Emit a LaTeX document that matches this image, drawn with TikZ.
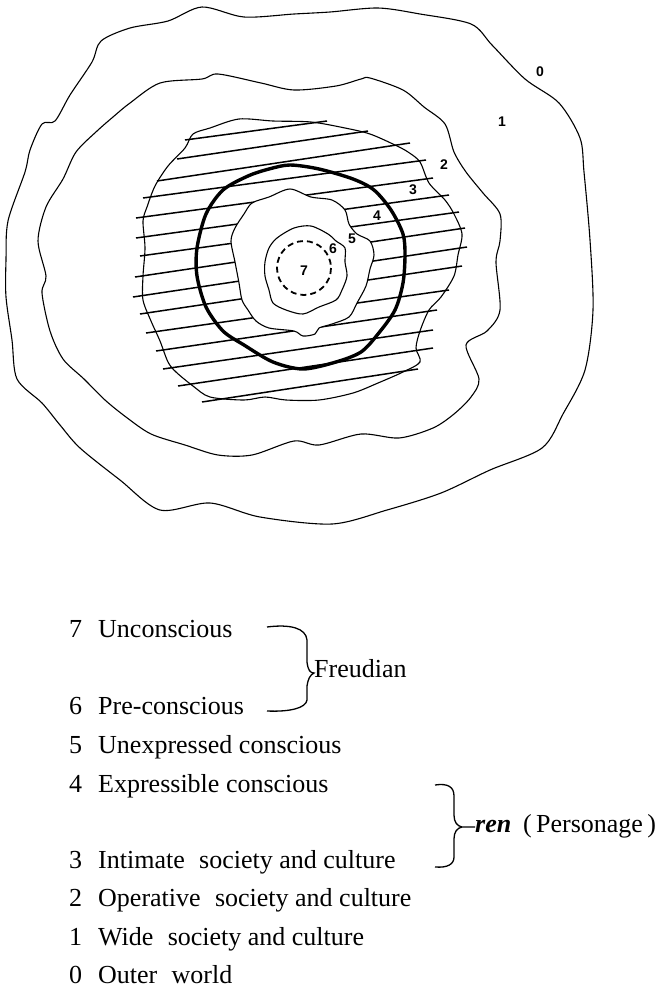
\documentclass[tikz,border=0pt]{standalone}
\usepackage{fontspec}
\setmainfont{Liberation Serif}
\newfontfamily\zonefont{Liberation Sans}
\newcommand{\legendsize}{\fontsize{26}{30}\selectfont}
\newcommand{\widegap}{\hspace{0.3em}}

\begin{document}
\begin{tikzpicture}[x=1pt, y=-1pt,
  ring/.style={line width=1.1pt, line join=round},
  thickring/.style={line width=3.4pt, line join=round},
  hatch/.style={line width=1.5pt},
  bracepath/.style={line width=1.3pt},
  zonelabel/.style={font=\zonefont\bfseries\fontsize{14}{14}\selectfont, inner sep=0pt},
  legend/.style={anchor=base west, inner sep=0pt, font=\legendsize}]
  \useasboundingbox (0,0) rectangle (658,989);

  % Hatching of zones 3 and 4
  \foreach \xa/\ya/\xb/\yb in {185/140/327/121, 177/159/368/131, 157/181/410/143,
      143/198/426/160, 136/218/433/178, 136/238/449/195, 140/256/459/212,
      135/277/465/228, 133/297/467/247, 140/314/462/266, 146/333/449/290,
      156/351/437/310, 163/369/433/330, 178/386/433/348, 202/402/418/369}
    \draw[hatch] (\xa,\ya) -- (\xb,\yb);
  % Zone 5 is left blank
  \fill[white] plot[smooth cycle, tension=0.5] coordinates {(290,189) (311,197) (332,200) (345,210)
    (349,224) (357,234) (370,241) (374,255) (370,269) (366,286) (357,303) (349,317)
    (332,324) (319,328) (315,334) (303,336) (294,331) (269,328) (256,321) (248,310)
    (242,300) (239,283) (235,262) (231,241) (235,228) (244,214) (252,203) (269,197)};

  % Outer world / wide society
  \draw[ring] plot[smooth cycle, tension=0.5] coordinates {(101,41) (92,62) (70,95) (55,121)
    (42,124) (30,150) (25,172) (8,221) (6,260) (6,297) (12,340) (17,379) (42,403)
    (60,425) (80,448) (120,480) (160,510) (210,503) (260,517) (332,524) (387,510)
    (441,493) (490,470) (542,448) (563,414) (585,370) (593,310) (590,240) (584,172)
    (580,138) (559,103) (525,79) (492,45) (471,24) (420,14) (378,8) (330,12)
    (294,14) (244,17) (202,7) (168,21) (130,28)};
  % Wide / operative society
  \draw[ring] plot[smooth cycle, tension=0.5] coordinates {(130,103) (160,83) (202,79) (218,74)
    (261,83) (294,90) (336,86) (361,79) (370,78) (403,90) (424,107) (445,124)
    (454,152) (466,172) (483,193) (500,214) (500,241) (496,262) (500,310) (487,331)
    (466,345) (479,379) (471,397) (454,414) (433,428) (399,438) (361,434) (319,445)
    (294,441) (252,455) (218,455) (185,445) (151,434) (126,417) (105,400) (84,379)
    (63,359) (50,331) (42,293) (46,276) (38,241) (46,207) (63,179) (76,152)
    (97,131) (113,117)};
  % Operative / intimate society
  \draw[ring] plot[smooth cycle, tension=0.5] coordinates {(193,134) (210,128) (239,119)
    (273,121) (311,122) (345,128) (370,134) (395,145) (408,152) (420,162) (429,183)
    (445,200) (454,214) (462,234) (458,255) (454,276) (441,297) (429,310) (420,331)
    (416,348) (420,362) (403,372) (378,383) (353,393) (319,400) (286,400) (265,397)
    (244,400) (210,397) (193,386) (176,372) (168,362) (160,341) (151,321) (143,300)
    (143,276) (145,248) (143,221) (147,207) (155,186) (168,166) (185,148)};
  % Boundary of ren
  \draw[thickring] plot[smooth cycle, tension=0.5] coordinates {(290,165) (319,169) (353,179)
    (374,190) (391,210) (403,234) (405,255) (403,283) (395,310) (378,334) (361,352)
    (336,362) (303,369) (273,362) (244,345) (223,331) (206,307) (197,276) (197,248)
    (206,214) (223,190) (248,176) (269,169)};
  % Expressible / unexpressed conscious
  \draw[ring] plot[smooth cycle, tension=0.5] coordinates {(290,189) (311,197) (332,200) (345,210)
    (349,224) (357,234) (370,241) (374,255) (370,269) (366,286) (357,303) (349,317)
    (332,324) (319,328) (315,334) (303,336) (294,331) (269,328) (256,321) (248,310)
    (242,300) (239,283) (235,262) (231,241) (235,228) (244,214) (252,203) (269,197)};
  % Unexpressed / pre-conscious
  \draw[ring] plot[smooth cycle, tension=0.5] coordinates {(294,228) (311,226) (328,234)
    (336,241) (345,248) (345,262) (347,276) (342,290) (336,300) (319,307) (303,314)
    (286,310) (273,303) (269,290) (265,276) (265,262) (269,248) (277,238)};
  % Unconscious
  \draw[line width=1.8pt, dash pattern=on 6pt off 4pt] (304,268) circle[radius=27];

  % Zone numbers
  \node[zonelabel] (z0) at (540,72) {0};
  \node[zonelabel] (z1) at (502,122) {1};
  \node[zonelabel] (z2) at (444,165) {2};
  \node[zonelabel] (z3) at (413,190) {3};
  \node[zonelabel] (z4) at (377,216) {4};
  \node[zonelabel] (z5) at (352,239) {5};
  \node[zonelabel] (z6) at (333,249) {6};
  \node[zonelabel] (z7) at (304,271) {7};

  % Legend
  \foreach \num/\txt/\yy in {7/Unconscious/637, 6/Pre-conscious/714,
      5/Unexpressed conscious/753, 4/Expressible conscious/792,
      3/Intimate\widegap{} society and culture/868, 2/Operative\widegap{} society and culture/906,
      1/Wide\widegap{} society and culture/945, 0/Outer\widegap{} world/983} {
    \node[legend] (num\num) at (69,\yy) {\num};
    \node[legend] (txt\num) at (98,\yy) {\txt};
  }

  % Freudian brace
  \node[legend] (freud) at (314,677) {Freudian};
  \draw[bracepath] (267,627) .. controls (290,624) and (306,628) .. (307,640) -- (307,662)
    .. controls (308,670) and (310,673) .. (freud.west |- 0,673)
    .. controls (310,675) and (308,679) .. (307,686) -- (307,700)
    .. controls (306,708) and (290,712) .. (267,711);

  % ren brace
  \node[legend] (ren) at (475,832) {\textbf{\textit{ren}}};
  \node[legend] (persona) at (523,832) {(\,Personage\,)};
  \draw[bracepath] (435,785) .. controls (448,783) and (454,787) .. (454,796) -- (454,815)
    .. controls (454,822) and (457,826) .. (462,827) -- (ren.west |- 0,827);
  \draw[bracepath] (462,827) .. controls (457,828) and (454,832) .. (454,839) -- (454,857)
    .. controls (454,864) and (448,868) .. (435,867);
\end{tikzpicture}
\end{document}
